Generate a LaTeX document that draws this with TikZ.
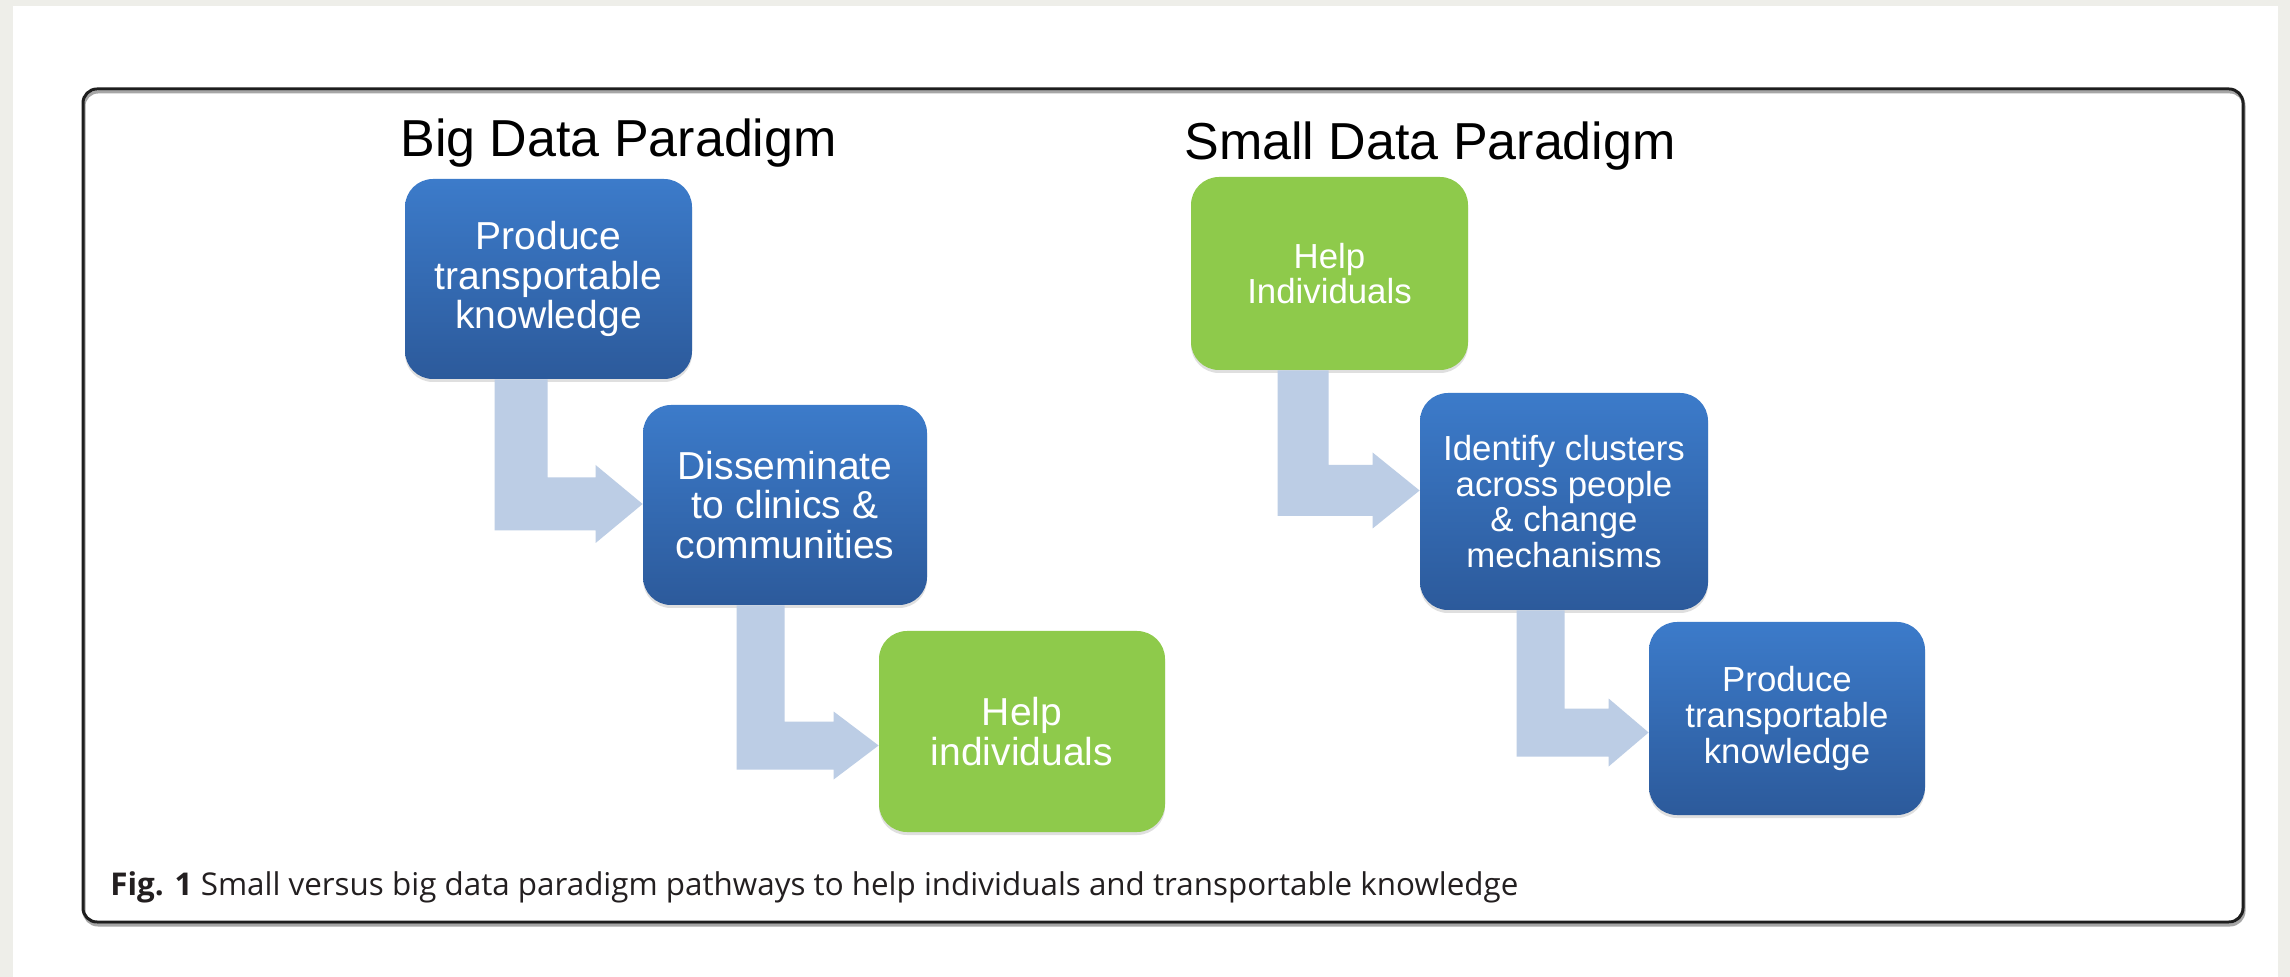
\documentclass[tikz,border=0pt]{standalone}
\usepackage{fontspec}
\usepackage{graphicx}
\setmainfont{Liberation Sans}
\newfontfamily\capfont{Open Sans}
\usetikzlibrary{calc,shadows}
\definecolor{bggray}{RGB}{238,238,233}
\definecolor{bluetop}{RGB}{60,123,202}
\definecolor{bluebot}{RGB}{44,90,155}
\definecolor{boxgreen}{RGB}{142,202,75}
\definecolor{arrowblue}{RGB}{188,205,229}
\definecolor{captext}{RGB}{35,31,32}
\definecolor{framecol}{RGB}{30,30,30}
% #1 from node, #2 to node, #3 x offset of bar, #4 bar width,
% #5 head half height, #6 head length, #7 tip y offset
\newcommand\bentarrow[7]{%
  \coordinate (#1A) at ($(#1.south west)+(#3,0)$);
  \coordinate (#1T) at ($(#2.west)+(0,#7)$);
  \coordinate (#1C) at (#1A|-#1T);
  \fill[arrowfill] (#1A) -- ($(#1A)+(#4,0)$) -- ($(#1C)+(#4,-#4/2)$)
    -- ($(#1T)+(-#6,-#4/2)$) -- ($(#1T)+(-#6,-#5)$) -- (#1T)
    -- ($(#1T)+(-#6,#5)$) -- ($(#1T)+(-#6,#4/2)$) -- ($(#1C)+(0,#4/2)$) -- cycle;
}
\begin{document}
\begin{tikzpicture}[x=0.5pt,y=-0.5pt,
  boxbase/.style={rounded corners=14pt, inner sep=0pt, align=center, text=white,
    drop shadow={opacity=0.25, shadow xshift=0pt, shadow yshift=-1.5pt}},
  bluebox/.style={boxbase, top color=bluetop, bottom color=bluebot},
  greenbox/.style={boxbase, fill=boxgreen},
  bigtext/.style={font=\fontsize{19.5pt}{19.6pt}\selectfont},
  smalltext/.style={font=\fontsize{17.4pt}{17.8pt}\selectfont},
  titletext/.style={font=\fontsize{26pt}{30pt}\selectfont, anchor=base west, inner sep=0pt},
  arrowfill/.style={fill=arrowblue}]
\useasboundingbox (0,0) rectangle (2290,977);
\fill[bggray] (0,0) rectangle (2290,977);
\fill[white] (13,6) rectangle (2278,977);
% frame
\draw[black!35, line width=1.5pt, rounded corners=7pt] (84,92) rectangle (2244,925);
\draw[framecol, line width=1.5pt, rounded corners=7pt] (83,89) rectangle (2243,922);
% titles
\node[titletext] (T1) at (400,157) {Big Data Paradigm};
\node[titletext] (T2) at (1184,160) {Small Data Paradigm};
% big data boxes
\node[bluebox, bigtext, minimum width=143.5pt, minimum height=100pt] (B1) at (548.5,279) {Produce\\transportable\\knowledge};
\node[bluebox, bigtext, minimum width=142pt, minimum height=100pt] (B2) at (785,505) {Disseminate\\to clinics \&\\communities};
\node[greenbox, bigtext, minimum width=143pt, minimum height=100.5pt] (B3) at (1022,731.5) {Help\\individuals};
% small data boxes
\node[greenbox, smalltext, minimum width=138.5pt, minimum height=96.5pt] (S1) at (1329.5,273.5) {Help\\Individuals};
\node[bluebox, smalltext, minimum width=144pt, minimum height=108.5pt] (S2) at (1564,501.5) {Identify clusters\\across people\\\& change\\mechanisms};
\node[bluebox, smalltext, minimum width=138pt, minimum height=96.5pt] (S3) at (1787,718.5) {Produce\\transportable\\knowledge};
% arrows
\bentarrow{B1}{B2}{90}{53}{39}{47}{-1}
\bentarrow{B2}{B3}{94}{48}{34}{45}{14}
\bentarrow{S1}{S2}{87}{51}{38}{47}{-11}
\bentarrow{S2}{S3}{97}{48}{34}{40}{14}
% caption
\node[anchor=base west, inner sep=0pt, text=captext] (cap) at (110,895)
  {\resizebox{704pt}{!}{\capfont\textbf{Fig. 1} Small versus big data paradigm pathways to help individuals and transportable knowledge}};
\end{tikzpicture}
\end{document}
